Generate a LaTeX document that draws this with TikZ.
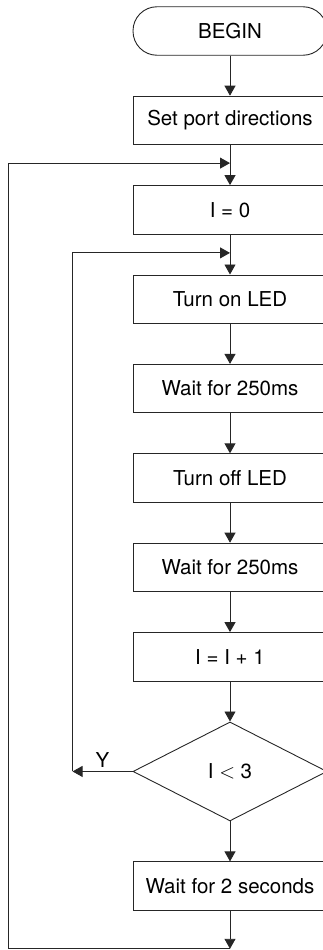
\documentclass[tikz,border=0pt]{standalone}
\usepackage{fontspec}
\setmainfont{TeX Gyre Heros}
\usetikzlibrary{calc, positioning}
\usetikzlibrary{arrows.meta}
\usetikzlibrary{shapes.geometric}

\begin{document}
\begin{tikzpicture}[x=1pt, y=1pt, line width=0.9pt, node distance=40pt,
  font=\fontsize{20.5}{23}\selectfont,
  box/.style={draw=black!85, minimum width=194pt, minimum height=48.5pt, inner sep=0pt},
  term/.style={box, rounded corners=24pt},
  decide/.style={draw=black!85, diamond, minimum width=194pt, minimum height=99pt, inner sep=0pt},
  arr/.style={draw=black!85, -{Triangle[length=10pt,width=11pt]}}]
  \useasboundingbox (0,0) rectangle (323,-950);

  \node[term] (begin) at (230,-31) {BEGIN};
  \node[box, below=of begin] (ports) {Set port directions};
  \node[box, below=of ports] (izero) {I = 0};
  \node[box, below=of izero] (ledon) {Turn on LED};
  \node[box, below=of ledon] (waita) {Wait for 250ms};
  \node[box, below=of waita] (ledoff) {Turn off LED};
  \node[box, below=of ledoff] (waitb) {Wait for 250ms};
  \node[box, below=of waitb] (incr) {I = I + 1};
  \node[decide, below=of incr] (test) {I $<$ 3};
  \node[box, below=of test] (waitc) {Wait for 2 seconds};

  \coordinate (outer) at ($(ports.south)!0.45!(izero.north)$);
  \coordinate (inner) at ($(izero.south)!0.46!(ledon.north)$);
  \coordinate (yturn) at ($(test.west)+(-60,0)$);
  \coordinate (outend) at ($(waitc.south)+(0,-38)$);

  \draw[arr] (begin) -- (ports);
  \draw[arr] (ports) -- (izero);
  \draw[arr] (izero) -- (ledon);
  \draw[arr] (ledon) -- (waita);
  \draw[arr] (waita) -- (ledoff);
  \draw[arr] (ledoff) -- (waitb);
  \draw[arr] (waitb) -- (incr);
  \draw[arr] (incr) -- (test);
  \draw[arr] (test) -- (waitc);

  % loop back while I < 3
  \draw[arr] (test) -- (yturn) node[midway, above] {Y};
  \draw[arr] (yturn) |- (inner);

  % outer loop
  \draw[arr] (waitc) -- (outend);
  \draw[arr] (outend) -- ++(-222,0) |- (outer);
\end{tikzpicture}
\end{document}
